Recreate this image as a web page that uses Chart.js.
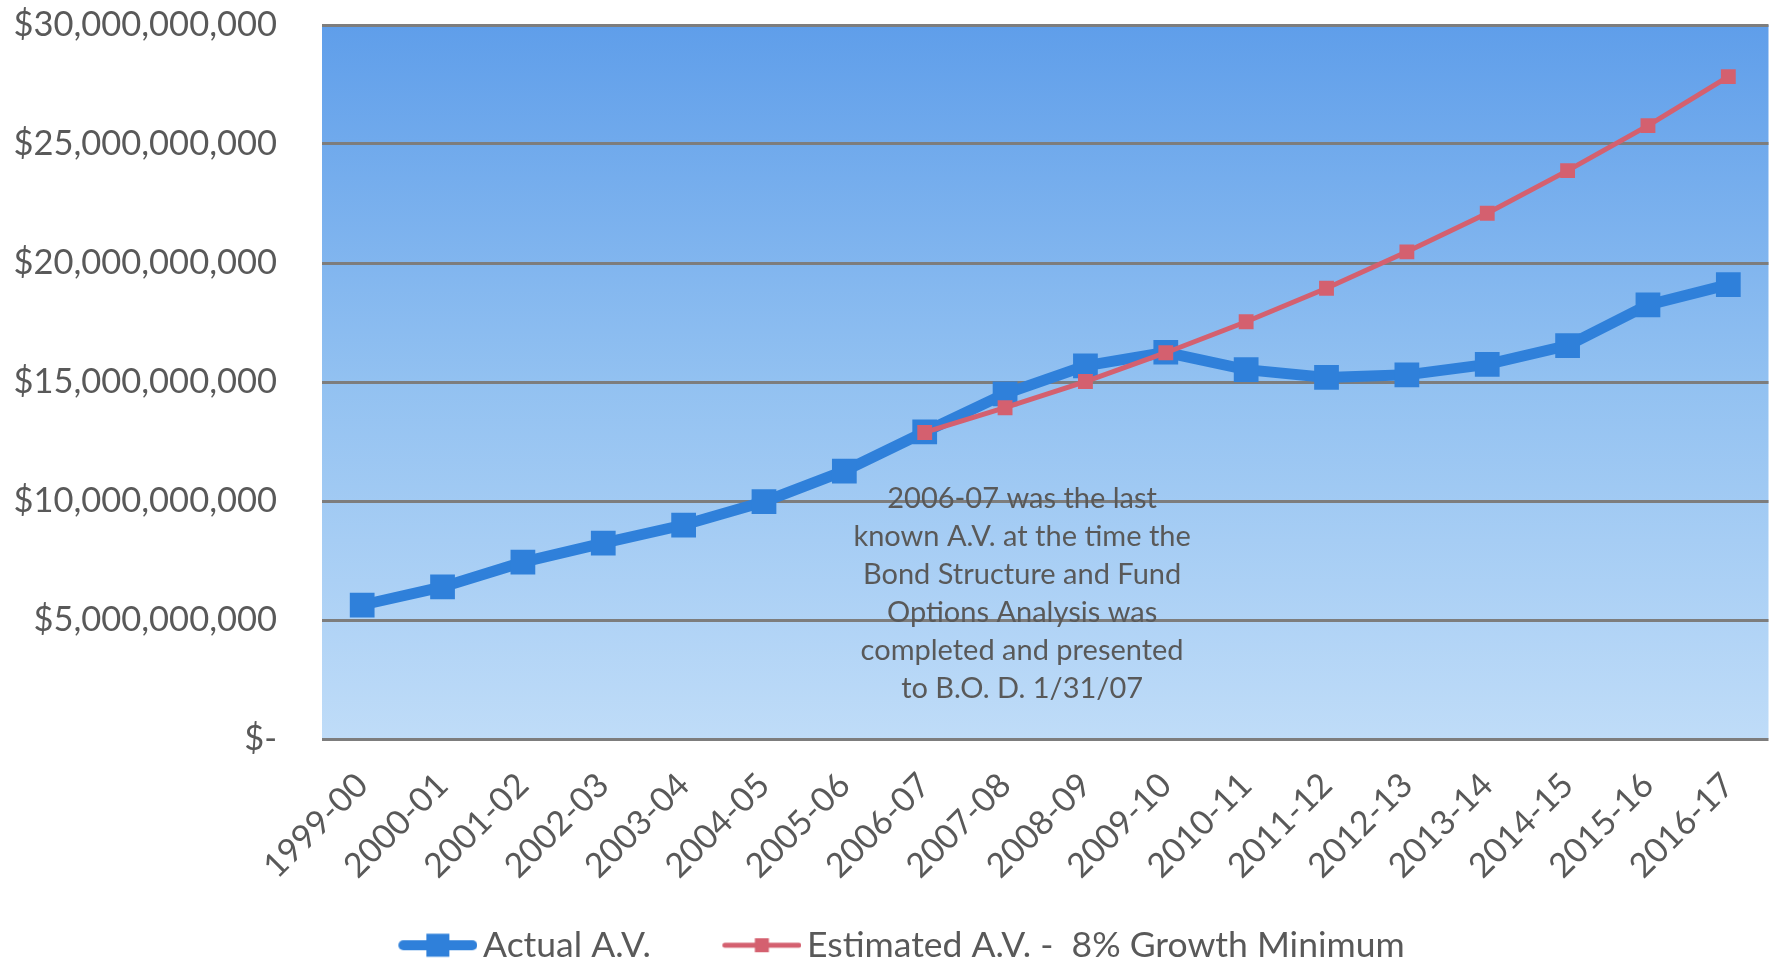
<!DOCTYPE html>
<html>
<head>
<meta charset="utf-8">
<script src="https://cdn.jsdelivr.net/npm/chart.js@4.4.1/dist/chart.umd.min.js"></script>
<style>
  html, body { margin: 0; padding: 0; background: #ffffff; overflow: hidden; }
  #wrap { width: 1771px; height: 964px; position: relative; overflow: hidden; }
  #chart { position: absolute; left: 0; top: 0; }
</style>
</head>
<body>
<div id="wrap"><canvas id="chart" width="1786" height="973"></canvas></div>
<script>
// Fiscal years
const years = ['1999-00', '2000-01', '2001-02', '2002-03', '2003-04', '2004-05',
  '2005-06', '2006-07', '2007-08', '2008-09', '2009-10', '2010-11', '2011-12',
  '2012-13', '2013-14', '2014-15', '2015-16', '2016-17'];

// Assessed value as recorded (dollars)
const actualAV = [5.63e9, 6.39e9, 7.43e9, 8.23e9, 8.99e9, 9.97e9, 11.26e9, 12.90e9,
  14.50e9, 15.68e9, 16.25e9, 15.52e9, 15.19e9, 15.30e9, 15.74e9, 16.53e9, 18.24e9, 19.09e9];

// Projection from 2006-07 at 8% minimum growth (dollars)
const estimatedAV = [null, null, null, null, null, null, null, 12.88e9,
  13.92e9, 15.02e9, 16.23e9, 17.53e9, 18.94e9, 20.47e9, 22.09e9, 23.88e9, 25.77e9, 27.83e9];

const yTicks = [0, 5e9, 10e9, 15e9, 20e9, 25e9, 30e9];

const seriesNames = ['Actual A.V.', 'Estimated A.V. -  8% Growth Minimum'];

const noteLines = ['2006-07 was the last', 'known A.V. at the time the',
  'Bond Structure and Fund', 'Options Analysis was',
  'completed and presented', 'to B.O. D. 1/31/07'];

const FONT = 'Lato, "Open Sans", "DejaVu Sans", sans-serif';
const TEXT = '#595959';
const BLUE = '#2f80da';
const RED = '#d4606f';
const PLOT_BOTTOM = 739;

// Legend swatch: a short line with the square marker on it
function legendSymbol(color, lineW, box) {
  const c = document.createElement('canvas');
  c.width = 108; c.height = 28;
  const g = c.getContext('2d');
  g.strokeStyle = color;
  g.lineWidth = lineW;
  g.lineCap = 'round';
  g.beginPath();
  g.moveTo(29 + lineW / 2, 14);
  g.lineTo(108 - lineW / 2, 14);
  g.stroke();
  g.fillStyle = color;
  g.fillRect(68.5 - box / 2, 14 - box / 2, box, box);
  return c;
}

const plotBackground = {
  id: 'plotBackground',
  beforeDraw(chart) {
    const { ctx, chartArea: a } = chart;
    const grad = ctx.createLinearGradient(0, a.top, 0, a.bottom);
    grad.addColorStop(0, '#5f9eea');
    grad.addColorStop(0.5, '#92c1f1');
    grad.addColorStop(1, '#bfdcf8');
    ctx.save();
    ctx.fillStyle = grad;
    ctx.fillRect(a.left, a.top, a.right - a.left, a.bottom - a.top);
    ctx.restore();
  }
};

const noteText = {
  id: 'noteText',
  afterDatasetsDraw(chart) {
    const { ctx, chartArea: a, scales } = chart;
    const cx = a.left + (a.right - a.left) * 0.484;
    const y0 = scales.y.getPixelForValue(10.1e9);
    const step = scales.y.getPixelForValue(0) - scales.y.getPixelForValue(1.6e9);
    ctx.save();
    ctx.font = '29px ' + FONT;
    ctx.fillStyle = TEXT;
    ctx.textAlign = 'center';
    ctx.textBaseline = 'middle';
    noteLines.forEach((t, i) => ctx.fillText(t, cx, y0 + i * step));
    ctx.restore();
  }
};

const chart = new Chart(document.getElementById('chart'), {
  type: 'line',
  data: {
    labels: years,
    datasets: [
      {
        label: seriesNames[0],
        data: actualAV,
        borderColor: BLUE,
        backgroundColor: BLUE,
        borderWidth: 11,
        pointStyle: 'rect',
        pointRadius: 17.5,
        pointBorderWidth: 0,
        pointBackgroundColor: BLUE,
        tension: 0,
        order: 2,
        symbol: legendSymbol(BLUE, 10, 23)
      },
      {
        label: seriesNames[1],
        data: estimatedAV,
        borderColor: RED,
        backgroundColor: RED,
        borderWidth: 5,
        pointStyle: 'rect',
        pointRadius: 10.5,
        pointBorderWidth: 0,
        pointBackgroundColor: RED,
        tension: 0,
        order: 1,
        symbol: legendSymbol(RED, 5, 14)
      }
    ]
  },
  options: {
    responsive: false,
    animation: false,
    devicePixelRatio: 1,
    layout: { padding: { top: 25, right: 0, left: 0, bottom: 0 } },
    plugins: {
      tooltip: { enabled: false },
      legend: {
        position: 'bottom',
        labels: {
          usePointStyle: true,
          pointStyleWidth: 84,
          boxHeight: 20,
          padding: 0,
          color: TEXT,
          font: { family: FONT, size: 35.5 },
          generateLabels(ch) {
            // first entry carries trailing room before the second swatch
            return ch.data.datasets.map((ds, i) => ({
              text: i === 0 ? ds.label + '      ' : ds.label,
              pointStyle: ds.symbol,
              fillStyle: ds.borderColor,
              strokeStyle: ds.borderColor,
              lineWidth: 0,
              fontColor: TEXT,
              hidden: false,
              datasetIndex: i
            }));
          }
        }
      }
    },
    scales: {
      x: {
        offset: true,
        grid: { display: false, drawTicks: false },
        border: { display: false },
        ticks: {
          color: TEXT,
          font: { family: FONT, size: 34 },
          maxRotation: 45,
          minRotation: 45,
          autoSkip: false,
          padding: 26
        },
        afterFit(s) {
          s.height = s.chart.height - PLOT_BOTTOM - s.chart.legend.height;
        }
      },
      y: {
        min: 0,
        max: 30e9,
        grid: {
          color: '#7d7d7d',
          lineWidth: 3,
          drawTicks: true,
          tickLength: 45,
          tickColor: 'rgba(0,0,0,0)'
        },
        border: { display: false },
        afterBuildTicks(s) {
          s.ticks = yTicks.map(v => ({ value: v }));
        },
        ticks: {
          color: TEXT,
          font: { family: FONT, size: 34.5 },
          padding: 0,
          callback(v) {
            return v === 0 ? '$-' : '$' + Number(v).toLocaleString('en-US');
          }
        },
        afterFit(s) {
          s.width = 322;
        }
      }
    }
  },
  plugins: [plotBackground, noteText]
});
</script>
</body>
</html>
